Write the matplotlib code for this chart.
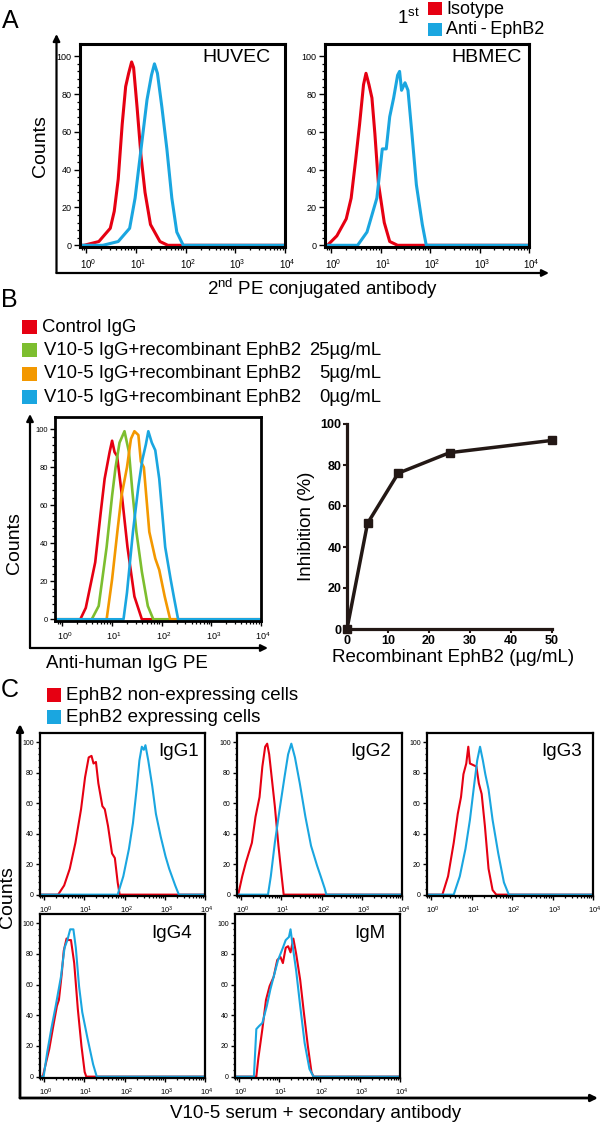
import numpy as np
import matplotlib
matplotlib.use('Agg')
import matplotlib.pyplot as plt
import matplotlib.transforms as mtransforms
from matplotlib.patches import Rectangle, FancyArrowPatch
from matplotlib.ticker import FixedLocator, LogLocator, NullFormatter

plt.rcParams['font.family'] = ['Liberation Sans', 'DejaVu Sans']
plt.rcParams['mathtext.fontset'] = 'custom'
plt.rcParams['mathtext.rm'] = 'Liberation Sans'

# ---------------- data (log10 fluorescence, counts) ----------------
RED = '#E60012'
BLUE = '#1AA6E0'
GREEN = '#7DBE2F'
ORANGE = '#F39800'
BROWN = '#231815'

# Panel A
huvec_iso_log = [-0.15, -0.05, 0.25, 0.48, 0.56, 0.64, 0.72, 0.79, 0.85, 0.91, 0.95, 1.02, 1.10, 1.18, 1.29, 1.48, 1.64, 4.0]
huvec_iso_cnt = [0, 0, 2, 9, 18, 35, 64, 84, 91, 97, 94, 73, 47, 28, 11, 2, 0, 0]
huvec_eph_log = [-0.15, 0.33, 0.64, 0.87, 0.98, 1.10, 1.22, 1.31, 1.37, 1.43, 1.52, 1.62, 1.72, 1.82, 1.95, 4.0]
huvec_eph_cnt = [0, 0, 2, 9, 25, 51, 77, 90, 96, 91, 73, 51, 25, 7, 0, 0]
hbmec_iso_log = [-0.15, -0.08, 0.11, 0.30, 0.40, 0.49, 0.57, 0.65, 0.70, 0.76, 0.82, 0.88, 0.95, 1.07, 1.18, 1.34, 4.0]
hbmec_iso_cnt = [0, 0, 5, 14, 25, 45, 64, 85, 91, 85, 78, 59, 33, 12, 2, 0, 0]
hbmec_eph_log = [-0.15, 0.53, 0.72, 0.92, 1.03, 1.11, 1.18, 1.26, 1.34, 1.38, 1.42, 1.49, 1.55, 1.63, 1.72, 1.84, 1.92, 4.0]
hbmec_eph_cnt = [0, 0, 7, 25, 51, 51, 68, 78, 90, 92, 82, 86, 82, 59, 32, 11, 0, 0]

# Panel B (flow)
ctrl_log = [-0.15, 0.36, 0.47, 0.66, 0.77, 0.85, 0.95, 1.00, 1.05, 1.10, 1.19, 1.31, 1.45, 1.60, 4.0]
ctrl_cnt = [0, 0, 6, 30, 56, 74, 88, 94, 88, 86, 67, 38, 12, 0, 0]
e25_log = [-0.15, 0.59, 0.73, 0.89, 1.00, 1.07, 1.15, 1.25, 1.34, 1.41, 1.49, 1.60, 1.72, 1.83, 4.0]
e25_cnt = [0, 0, 7, 38, 65, 80, 93, 99, 88, 67, 46, 25, 7, 0, 0]
e5_log = [-0.15, 0.89, 1.00, 1.11, 1.19, 1.30, 1.38, 1.45, 1.53, 1.58, 1.64, 1.75, 1.87, 1.95, 2.06, 2.17, 4.0]
e5_cnt = [0, 0, 21, 47, 65, 80, 95, 99, 97, 83, 80, 46, 32, 26, 12, 0, 0]
e0_log = [-0.15, 1.23, 1.30, 1.42, 1.53, 1.61, 1.68, 1.73, 1.80, 1.87, 1.95, 2.07, 2.18, 2.25, 2.33, 4.0]
e0_cnt = [0, 0, 14, 46, 70, 84, 92, 99, 93, 89, 74, 38, 21, 11, 0, 0]

# Panel B (inhibition)
ephb2_conc = [0, 5, 12.5, 25, 50]
inhibition = [0, 51.5, 76, 86, 92]

# Panel C
igg1_neg_log = [-0.1, 0.35, 0.50, 0.64, 0.78, 0.92, 1.02, 1.11, 1.18, 1.23, 1.29, 1.35, 1.45, 1.51, 1.59, 1.69, 1.76, 1.83, 1.88, 4.0]
igg1_neg_cnt = [0, 0, 6, 17, 34, 56, 77, 90, 91, 86, 87, 73, 58, 56, 45, 27, 24, 8, 0, 0]
igg1_pos_log = [-0.1, 1.83, 1.97, 2.11, 2.21, 2.30, 2.37, 2.43, 2.48, 2.52, 2.59, 2.69, 2.78, 2.90, 3.02, 3.11, 3.26, 3.35, 4.0]
igg1_pos_cnt = [0, 0, 12, 30, 47, 69, 88, 97, 95, 98, 88, 71, 53, 38, 25, 17, 6, 0, 0]
igg2_neg_log = [-0.1, -0.07, 0.03, 0.12, 0.27, 0.36, 0.46, 0.53, 0.60, 0.65, 0.70, 0.77, 0.84, 0.93, 1.01, 1.06, 4.0]
igg2_neg_cnt = [0, 0, 12, 21, 34, 51, 64, 84, 97, 99, 92, 75, 58, 32, 12, 0, 0]
igg2_pos_log = [-0.1, 0.67, 0.74, 0.84, 0.96, 1.08, 1.17, 1.25, 1.34, 1.46, 1.60, 1.74, 1.89, 1.98, 2.08, 2.12, 4.0]
igg2_pos_cnt = [0, 0, 12, 34, 56, 77, 92, 99, 90, 73, 51, 32, 19, 12, 4, 0, 0]
igg3_neg_log = [-0.1, 0.28, 0.42, 0.56, 0.66, 0.74, 0.80, 0.87, 0.92, 0.96, 1.04, 1.12, 1.18, 1.25, 1.33, 1.42, 1.52, 1.61, 4.0]
igg3_neg_cnt = [0, 0, 12, 34, 53, 64, 79, 86, 97, 86, 85, 84, 73, 66, 45, 17, 3, 0, 0]
igg3_pos_log = [-0.1, 0.56, 0.71, 0.85, 0.96, 1.06, 1.14, 1.21, 1.28, 1.34, 1.42, 1.52, 1.66, 1.80, 1.92, 4.0]
igg3_pos_cnt = [0, 0, 12, 30, 49, 71, 88, 97, 88, 79, 69, 49, 27, 8, 0, 0]
igg4_neg_log = [-0.1, -0.03, 0.04, 0.13, 0.23, 0.32, 0.37, 0.44, 0.49, 0.56, 0.61, 0.67, 0.75, 0.84, 0.93, 1.01, 1.05, 4.0]
igg4_neg_cnt = [0, 0, 8, 18, 33, 46, 50, 67, 82, 90, 89, 89, 74, 44, 20, 3, 0, 0]
igg4_pos_log = [-0.1, -0.01, 0.08, 0.18, 0.29, 0.42, 0.51, 0.58, 0.65, 0.73, 0.79, 0.87, 0.95, 1.08, 1.22, 1.31, 4.0]
igg4_pos_cnt = [0, 0, 16, 31, 46, 65, 84, 89, 96, 96, 84, 59, 42, 25, 8, 0, 0]
igm_neg_log = [-0.1, 0.43, 0.48, 0.58, 0.67, 0.76, 0.86, 0.95, 1.03, 1.09, 1.16, 1.22, 1.28, 1.35, 1.42, 1.52, 1.61, 1.71, 1.80, 1.85, 4.0]
igm_neg_cnt = [0, 0, 12, 31, 50, 59, 65, 76, 78, 74, 84, 85, 81, 90, 80, 63, 42, 20, 3, 0, 0]
igm_pos_log = [-0.1, 0.37, 0.43, 0.50, 0.58, 0.69, 0.78, 0.88, 0.97, 1.09, 1.16, 1.24, 1.28, 1.35, 1.42, 1.52, 1.63, 1.75, 1.85, 4.0]
igm_pos_cnt = [0, 0, 31, 33, 35, 46, 57, 67, 76, 84, 89, 91, 96, 82, 69, 46, 22, 5, 0, 0]

count_ticks = [0, 20, 40, 60, 80, 100]
decade_ticks = [0, 1, 2, 3, 4]
decade_labels = ['$\\mathregular{10^{%d}}$' % d for d in decade_ticks]
conc_ticks = [0, 10, 20, 30, 40, 50]
inhib_ticks = [0, 20, 40, 60, 80, 100]

# ---------------- helpers ----------------
W, H = 600, 1124
fig = plt.figure(figsize=(W / 100, H / 100), dpi=100)


def fx(x):
    return x / W


def fy(y):
    return 1 - y / H


def add_ax(l, t, r, b):
    return fig.add_axes([fx(l), fy(b), (r - l) / W, (b - t) / H])


def ftext(x, y, s, **kw):
    fig.text(fx(x), fy(y), s, **kw)


def square(x0, y0, x1, y1, color):
    fig.add_artist(Rectangle((fx(x0), fy(y1)), (x1 - x0) / W, (y1 - y0) / H,
                             transform=fig.transFigure, facecolor=color, edgecolor='none'))


def arrow(x0, y0, x1, y1, lw, ms=10):
    fig.add_artist(FancyArrowPatch((fx(x0), fy(y0)), (fx(x1), fy(y1)),
                                   transform=fig.transFigure, arrowstyle='-|>',
                                   mutation_scale=ms, lw=lw, color='black',
                                   shrinkA=0, shrinkB=0))


def flow_panel(box, curves, lw_box, lw_curve, ytick_fs, xtick_fs, xlow, ytop,
               tlen=4.0):
    l, t, r, b = box
    ax = add_ax(l, t, r, b)
    for logs, cnts, col in curves:
        ax.plot(10 ** np.asarray(logs, dtype=float), cnts, color=col, lw=lw_curve,
                solid_joinstyle='round')
    ax.set_xscale('log')
    ax.set_xlim(10 ** xlow, 1e4)
    ax.set_ylim(-0.9, ytop)
    for s in ax.spines.values():
        s.set_linewidth(lw_box)
    ax.xaxis.set_major_locator(FixedLocator([10.0 ** d for d in decade_ticks]))
    ax.set_xticklabels(decade_labels)
    ax.xaxis.set_minor_locator(LogLocator(base=10, subs=np.arange(2, 10)))
    ax.xaxis.set_minor_formatter(NullFormatter())
    ax.set_yticks(count_ticks)
    ax.set_yticklabels([str(v) for v in count_ticks])
    ax.yaxis.set_minor_locator(FixedLocator([v for v in range(4, 100, 4) if v % 20]))
    ax.tick_params(axis='both', which='major', direction='out', length=tlen, width=1.0,
                   pad=1.5)
    ax.tick_params(axis='both', which='minor', direction='out', length=tlen * 0.55, width=0.9)
    ax.tick_params(axis='x', labelsize=xtick_fs, pad=3)
    ax.tick_params(axis='y', labelsize=ytick_fs)
    shift = mtransforms.ScaledTranslation(xtick_fs * 0.22 / 72, 0, fig.dpi_scale_trans)
    for lab in ax.get_xticklabels():
        lab.set_transform(lab.get_transform() + shift)
    return ax


# ================= Panel A =================
ftext(2, 21, 'A', fontsize=18, ha='left', va='center')
ftext(420, 18, '$\\mathregular{1^{st}}$', fontsize=13.5, ha='right', va='center')
square(428, 2, 442, 15, RED)
square(428, 23, 442, 36, BLUE)
ftext(446, 9, 'Isotype', fontsize=13, ha='left', va='center')
ftext(446, 29, 'Anti\u2009-\u2009EphB2', fontsize=13, ha='left', va='center')

flow_panel((80, 44, 285, 247),
           [(huvec_iso_log, huvec_iso_cnt, RED), (huvec_eph_log, huvec_eph_cnt, BLUE)],
           2.2, 2.2, 6.5, 7, -0.13, 106.5, tlen=4.5)
ftext(270, 58, 'HUVEC', fontsize=14, ha='right', va='center')
flow_panel((325, 44, 529, 247),
           [(hbmec_iso_log, hbmec_iso_cnt, RED), (hbmec_eph_log, hbmec_eph_cnt, BLUE)],
           2.2, 2.2, 6.5, 7, -0.13, 106.5, tlen=4.5)
ftext(522, 58, 'HBMEC', fontsize=14, ha='right', va='center')

arrow(56.5, 273, 56.5, 34, 1.6)
arrow(56.5, 273, 549, 273, 1.6)
ftext(40, 146, 'Counts', fontsize=14, rotation=90, ha='center', va='center')
ftext(322, 289, '$\\mathregular{2^{nd}}$ PE conjugated antibody', fontsize=13.5,
      ha='center', va='center')

# ================= Panel B =================
ftext(1, 300, 'B', fontsize=18, ha='left', va='center')
legend_rows_b = [
    ('Control IgG', '', RED),
    ('V10-5 IgG+recombinant EphB2', '25µg/mL', GREEN),
    ('V10-5 IgG+recombinant EphB2', '5µg/mL', ORANGE),
    ('V10-5 IgG+recombinant EphB2', '0µg/mL', BLUE),
]
row_y_b = [327, 350, 374, 397]
for (lab, conc, col), yy in zip(legend_rows_b, row_y_b):
    square(22, yy - 7, 37, yy + 7, col)
    ftext(42 if not conc else 44, yy, lab, fontsize=13.3, ha='left', va='center')
    if conc:
        ftext(381, yy, conc, fontsize=13.3, ha='right', va='center')

flow_panel((55, 417, 261, 621),
           [(ctrl_log, ctrl_cnt, RED), (e25_log, e25_cnt, GREEN),
            (e5_log, e5_cnt, ORANGE), (e0_log, e0_cnt, BLUE)],
           2.0, 1.9, 5.5, 6.5, -0.15, 106.5, tlen=3.5)
arrow(30, 648, 30, 414, 1.6)
arrow(30, 648, 268, 648, 1.6)
ftext(14, 543, 'Counts', fontsize=14, rotation=90, ha='center', va='center')
ftext(46.5, 663, 'Anti-human IgG PE', fontsize=13.5, ha='left', va='center')

axi = add_ax(347, 424, 552, 629)
axi.plot(ephb2_conc, inhibition, color=BROWN, lw=2.5, marker='s', markersize=5.5,
         clip_on=False, zorder=5)
axi.set_xlim(0, 50)
axi.set_ylim(0, 100)
axi.set_xticks(conc_ticks)
axi.set_yticks(inhib_ticks)
for s in ['top', 'right']:
    axi.spines[s].set_visible(False)
for s in ['left', 'bottom']:
    axi.spines[s].set_linewidth(2.3)
    axi.spines[s].set_color(BROWN)
axi.tick_params(axis='both', direction='out', length=3, width=1.5, color=BROWN,
                labelsize=9, pad=1)
for lab in axi.get_xticklabels() + axi.get_yticklabels():
    lab.set_fontweight('bold')
axi.set_ylabel('Inhibition (%)', fontsize=13.5, labelpad=4)
ftext(453, 658, 'Recombinant EphB2 (µg/mL)', fontsize=13.5, ha='center', va='center')

# ================= Panel C =================
ftext(1, 690, 'C', fontsize=18, ha='left', va='center')
square(47, 688, 61, 702, RED)
square(47, 710, 61, 724, BLUE)
ftext(66, 695, 'EphB2 non-expressing cells', fontsize=13.5, ha='left', va='center')
ftext(66, 717, 'EphB2 expressing cells', fontsize=13.5, ha='left', va='center')

c_panels = [
    ((40, 733, 205, 896), igg1_neg_log, igg1_neg_cnt, igg1_pos_log, igg1_pos_cnt, 'IgG1', 199, 752),
    ((237, 733, 402, 896), igg2_neg_log, igg2_neg_cnt, igg2_pos_log, igg2_pos_cnt, 'IgG2', 391, 752),
    ((427, 733, 593, 896), igg3_neg_log, igg3_neg_cnt, igg3_pos_log, igg3_pos_cnt, 'IgG3', 582, 752),
    ((40, 914, 205, 1078), igg4_neg_log, igg4_neg_cnt, igg4_pos_log, igg4_pos_cnt, 'IgG4', 192, 933),
    ((235, 914, 400, 1078), igm_neg_log, igm_neg_cnt, igm_pos_log, igm_pos_cnt, 'IgM', 385, 933),
]
for box, nl, nc, pl, pc, name, nx, ny in c_panels:
    flow_panel(box, [(nl, nc, RED), (pl, pc, BLUE)], 1.6, 1.5, 5, 5.5, -0.1, 106,
               tlen=3.0)
    ftext(nx, ny, name, fontsize=13.5, ha='right', va='center')

arrow(20, 1098, 20, 724, 2.0)
arrow(20, 1098, 598, 1098, 2.0)
ftext(8, 897, 'Counts', fontsize=14, rotation=90, ha='center', va='center')
ftext(316, 1113, 'V10-5 serum + secondary antibody', fontsize=13.5, ha='center',
      va='center')

fig.savefig('out.png', dpi=100)
